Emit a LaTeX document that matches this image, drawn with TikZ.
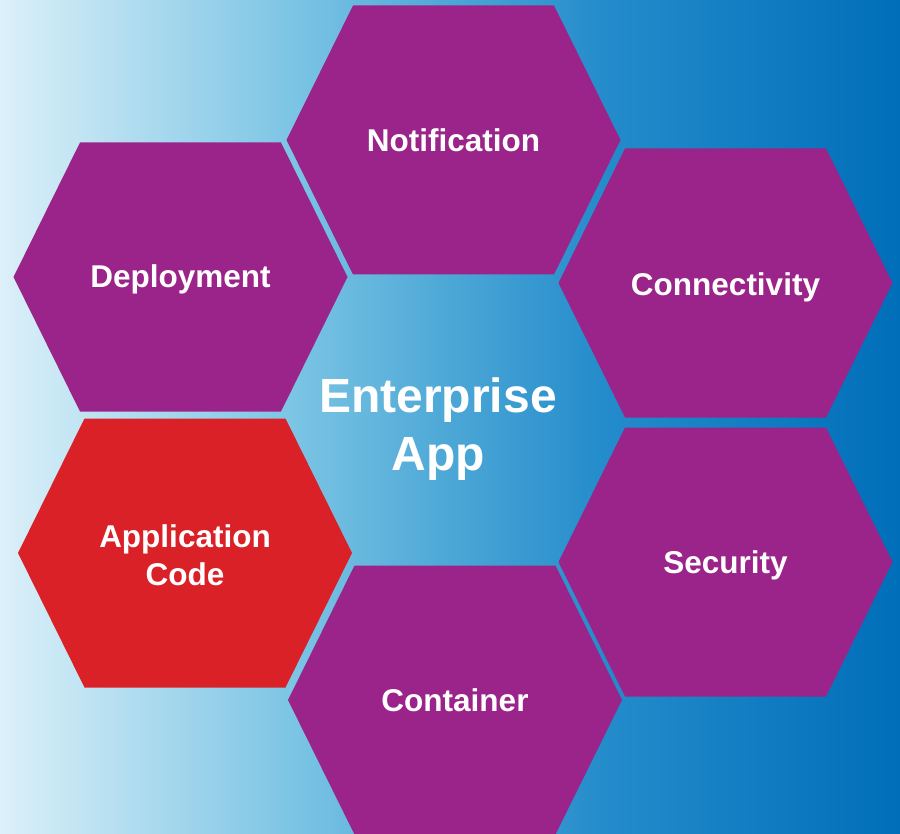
\documentclass[tikz,border=0pt]{standalone}
\usepackage{fontspec}
\setmainfont{Liberation Sans}
\usetikzlibrary{calc}
\definecolor{purp}{RGB}{155,36,138}
\definecolor{redhex}{RGB}{218,33,39}
\definecolor{bgA}{RGB}{220,240,249}
\definecolor{bgB}{RGB}{122,196,228}
\definecolor{bgC}{RGB}{76,167,214}
\definecolor{bgD}{RGB}{36,140,203}
\definecolor{bgE}{RGB}{0,110,185}
\pgfdeclarehorizontalshading{bgshade}{100bp}{color(0bp)=(bgA); color(25bp)=(bgA); color(41.5bp)=(bgB); color(50bp)=(bgC); color(58.5bp)=(bgD); color(75bp)=(bgE); color(100bp)=(bgE)}
\tikzset{
  hexfill/.style={fill=#1},
  hexlabel/.style={text=white, font=\bfseries\fontsize{31.5}{38}\selectfont, align=center, inner sep=0pt},
  biglabel/.style={text=white, font=\bfseries\fontsize{48}{58}\selectfont, align=center, inner sep=0pt}
}
\newcommand\hexagonat[2]{%
  \fill[hexfill=#2] (#1) ++(-167,0) -- ++(66.5,-134.5) -- ++(201,0) -- ++(66.5,134.5) -- ++(-66.5,134.5) -- ++(-201,0) -- cycle;}
\begin{document}
\begin{tikzpicture}[x=1pt,y=-1pt]
\useasboundingbox (0,0) rectangle (900,834);
\shade[shading=bgshade] (0,0) rectangle (900,834);
% hexagon centres
\coordinate (cNotif) at (453.5,140);
\coordinate (cDeploy) at (180.5,277);
\coordinate (cConn) at (725.5,283);
\coordinate (cApp) at (185,553);
\coordinate (cSec) at (725.5,562);
\coordinate (cCont) at (455,700);
\hexagonat{cNotif}{purp}
\hexagonat{cDeploy}{purp}
\hexagonat{cConn}{purp}
\hexagonat{cApp}{redhex}
\hexagonat{cSec}{purp}
\hexagonat{cCont}{purp}
\node[hexlabel, anchor=base] (notif) at (453.5,152) {Notification};
\node[hexlabel, anchor=base] (deploy) at (180.5,288) {Deployment};
\node[hexlabel, anchor=base] (conn) at (725.5,296) {Connectivity};
\node[hexlabel] (appcode) at (185,555) {Application\\Code};
\node[hexlabel, anchor=base] (sec) at (725.5,573) {Security};
\node[hexlabel, anchor=base] (cont) at (455,711) {Container};
\node[biglabel] (ent) at (438,429) {Enterprise\\App};
\end{tikzpicture}
\end{document}
